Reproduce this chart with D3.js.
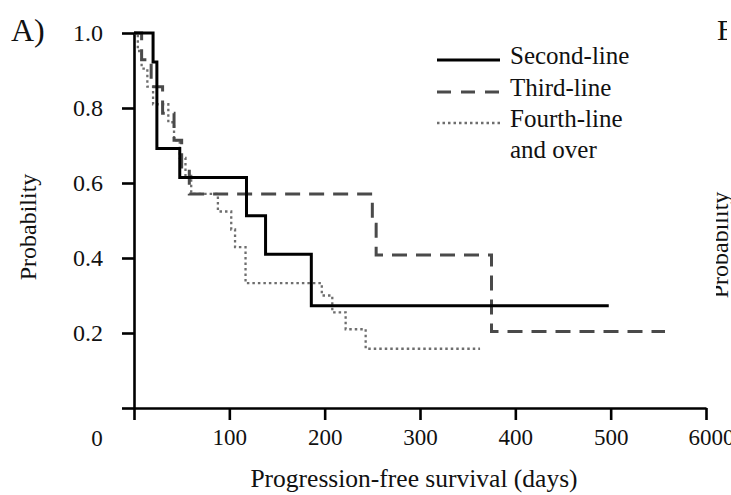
<!DOCTYPE html>
<html>
<head>
<meta charset="utf-8">
<script src="https://cdn.jsdelivr.net/npm/d3@7"></script>
<style>
  html, body { margin: 0; padding: 0; background: #fff; }
  svg { display: block; }
  text { font-family: "Liberation Serif", "Times New Roman", serif; fill: #111; }
</style>
</head>
<body>
<svg id="chart" width="731" height="495"></svg>
<script>
// ---- Data ----
const seriesNames = ["Second-line", "Third-line", "Fourth-line"];
const legendLabels = ["Second-line", "Third-line", "Fourth-line", "and over"];

const secondLineDays  = [0, 20, 24, 48, 118, 138, 186, 498];
const secondLineProb  = [1.0, 0.923, 0.692, 0.615, 0.513, 0.41, 0.273, 0.273];

const thirdLineDays   = [0, 8, 18, 30, 42, 50, 58, 250, 254, 375, 557];
const thirdLineProb   = [1.0, 0.929, 0.857, 0.786, 0.714, 0.643, 0.571, 0.49, 0.408, 0.204, 0.204];

const fourthLineDays  = [0, 4, 8, 14, 20, 36, 42, 48, 54, 60, 88, 102, 106, 117, 197, 208, 222, 243, 363];
const fourthLineProb  = [1.0, 0.952, 0.905, 0.857, 0.81, 0.762, 0.714, 0.667, 0.619, 0.571, 0.524, 0.476, 0.429, 0.333, 0.30, 0.255, 0.21, 0.158, 0.158];

const xTickValues = [0, 100, 200, 300, 400, 500, 600];
const xTickLabels = ["", "100", "200", "300", "400", "500", "6000"];
const yTickValues = [0, 0.2, 0.4, 0.6, 0.8, 1.0];
const yTickLabels = ["", "0.2", "0.4", "0.6", "0.8", "1.0"];

// ---- Layout ----
const svg = d3.select("#chart");
const x = d3.scaleLinear().domain([0, 600]).range([134, 706]);
const y = d3.scaleLinear().domain([0, 1]).range([408, 33]);

const styles = [
  { stroke: "#000", width: 3, dash: null },
  { stroke: "#4a4a4a", width: 3, dash: "15,9" },
  { stroke: "#6e6e6e", width: 2.3, dash: "2.5,3" }
];

// ---- Axes ----
const yAxis = d3.axisLeft(y).tickValues(yTickValues)
  .tickFormat((d, i) => yTickLabels[i]).tickSize(12).tickSizeOuter(0).tickPadding(19);
const gy = svg.append("g").attr("transform", "translate(134,0)").call(yAxis);
gy.selectAll("path, line").attr("stroke", "#000").attr("stroke-width", 2.6);
gy.selectAll("text").style("font-size", "24px").attr("fill", "#222");

const xAxis = d3.axisBottom(x).tickValues(xTickValues)
  .tickFormat((d, i) => xTickLabels[i]).tickSize(12).tickSizeOuter(0).tickPadding(9);
const gx = svg.append("g").attr("transform", "translate(0,408)").call(xAxis);
gx.selectAll("path, line").attr("stroke", "#000").attr("stroke-width", 2.6);
gx.selectAll("text").style("font-size", "23px").attr("fill", "#222");
gx.selectAll(".tick").filter(d => d === 600).select("text")
  .attr("text-anchor", "start").attr("x", -18);

// Zero label placed to the lower left of the origin
svg.append("text").attr("x", 97).attr("y", 446).attr("text-anchor", "middle")
  .style("font-size", "23px").attr("fill", "#222").text("0");

// ---- Curves ----
const line = d3.line().x(d => x(d[0])).y(d => y(d[1])).curve(d3.curveStepAfter);
const series = [
  d3.zip(secondLineDays, secondLineProb),
  d3.zip(thirdLineDays, thirdLineProb),
  d3.zip(fourthLineDays, fourthLineProb)
];
// draw dotted first, then dashed, then solid on top
[2, 1, 0].forEach(i => {
  svg.append("path").datum(series[i])
    .attr("d", line)
    .attr("fill", "none")
    .attr("stroke", styles[i].stroke)
    .attr("stroke-width", styles[i].width)
    .attr("stroke-dasharray", styles[i].dash)
    .attr("stroke-linejoin", "miter")
    .attr("class", "series-" + seriesNames[i]);
});

// ---- Legend ----
const legendY = [60, 92, 123];
const textBase = [64, 96, 127, 158];
seriesNames.forEach((n, i) => {
  svg.append("line")
    .attr("x1", 437).attr("x2", 500)
    .attr("y1", legendY[i]).attr("y2", legendY[i])
    .attr("stroke", styles[i].stroke)
    .attr("stroke-width", styles[i].width)
    .attr("stroke-dasharray", i === 1 ? "14,10" : styles[i].dash);
});
legendLabels.forEach((t, i) => {
  svg.append("text").attr("x", 510).attr("y", textBase[i])
    .style("font-size", "25px").attr("fill", "#222").text(t);
});

// ---- Titles ----
svg.append("text").attr("x", 11).attr("y", 41)
  .style("font-size", "32px").attr("fill", "#111").text("A)");
svg.append("text")
  .attr("transform", "translate(36,227) rotate(-90)")
  .attr("text-anchor", "middle")
  .style("font-size", "24px").attr("fill", "#222").text("Probability");
svg.append("text").attr("x", 414).attr("y", 487).attr("text-anchor", "middle")
  .style("font-size", "25.5px").attr("fill", "#222").text("Progression-free survival (days)");

// ---- Edge of the neighbouring panel (cut off in the reference) ----
const defs = svg.append("defs");
defs.append("clipPath").attr("id", "clipB")
  .append("rect").attr("x", 717).attr("y", 0).attr("width", 10).attr("height", 80);
defs.append("clipPath").attr("id", "clipP")
  .append("rect").attr("x", 716).attr("y", 150).attr("width", 20).attr("height", 200);
svg.append("g").attr("clip-path", "url(#clipB)")
  .append("text").attr("x", 717).attr("y", 40)
  .style("font-size", "30px").attr("fill", "#111").text("B)");
svg.append("g").attr("clip-path", "url(#clipP)")
  .append("text")
  .attr("transform", "translate(728,245) rotate(-90)")
  .attr("text-anchor", "middle")
  .style("font-size", "24px").attr("fill", "#333").text("Probability");
</script>
</body>
</html>
